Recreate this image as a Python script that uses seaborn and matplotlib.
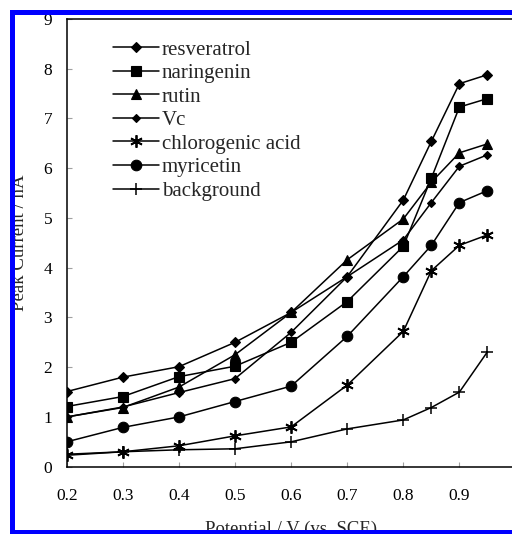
import matplotlib
matplotlib.use("Agg")
import matplotlib.pyplot as plt
from matplotlib.patches import Rectangle
import seaborn as sns
import pandas as pd

# ---- data ----
potential = [0.2, 0.3, 0.4, 0.5, 0.6, 0.7, 0.8, 0.85, 0.9, 0.95]
resveratrol = [1.51, 1.80, 2.01, 2.50, 3.10, 3.82, 5.36, 6.54, 7.70, 7.88]
naringenin = [1.21, 1.41, 1.81, 2.02, 2.50, 3.32, 4.43, 5.80, 7.23, 7.40]
rutin = [1.00, 1.19, 1.60, 2.25, 3.10, 4.16, 4.98, 5.72, 6.31, 6.49]
vc = [1.00, 1.20, 1.49, 1.77, 2.70, 3.82, 4.56, 5.31, 6.04, 6.27]
chlorogenic_acid = [0.23, 0.30, 0.42, 0.62, 0.80, 1.64, 2.72, 3.94, 4.45, 4.66]
myricetin = [0.50, 0.79, 1.00, 1.31, 1.62, 2.62, 3.82, 4.45, 5.31, 5.55]
background = [0.25, 0.30, 0.34, 0.36, 0.50, 0.76, 0.94, 1.19, 1.50, 2.31]

series_names = ["resveratrol", "naringenin", "rutin", "Vc",
                "chlorogenic acid", "myricetin", "background"]
series_values = [resveratrol, naringenin, rutin, vc,
                 chlorogenic_acid, myricetin, background]

x_ticks = [0.2, 0.3, 0.4, 0.5, 0.6, 0.7, 0.8, 0.9]
x_tick_labels = ["0.2", "0.3", "0.4", "0.5", "0.6", "0.7", "0.8", "0.9"]
y_ticks = [0, 1, 2, 3, 4, 5, 6, 7, 8, 9]

# ---- styles ----
marker_style = {
    "resveratrol": dict(marker="D", markersize=5.4),
    "naringenin": dict(marker="s", markersize=7.0),
    "rutin": dict(marker="^", markersize=7.5),
    "Vc": dict(marker="D", markersize=3.8),
    "chlorogenic acid": dict(marker=(6, 2, 0), markersize=9, markeredgewidth=1.3),
    "myricetin": dict(marker="o", markersize=7.6),
    "background": dict(marker="+", markersize=9, markeredgewidth=1.1),
}

sns.set_style("ticks")
plt.rcParams["font.family"] = ["Liberation Serif", "DejaVu Serif"]

W, H = 512, 537
fig = plt.figure(figsize=(W / 100, H / 100), dpi=100)
ax_left, ax_right, ax_top, ax_bottom = 66.7, 515.5, 19.0, 466.7
ax = fig.add_axes([ax_left / W, 1 - ax_bottom / H,
                   (ax_right - ax_left) / W, (ax_bottom - ax_top) / H])

frames = []
for name, vals in zip(series_names, series_values):
    frames.append(pd.DataFrame({"Potential": potential, "Current": vals,
                                "Compound": name}))
df = pd.concat(frames, ignore_index=True)

for name in series_names:
    sub = df[df["Compound"] == name]
    st = dict(markeredgewidth=0.8)
    st.update(marker_style[name])
    sns.lineplot(data=sub, x="Potential", y="Current", ax=ax, color="black",
                 linewidth=1.1, markeredgecolor="black", markerfacecolor="black",
                 label=name, errorbar=None, sort=False, **st)

ax.set_xlim(0.2, 1.0)
ax.set_ylim(0, 9)
ax.set_xticks(x_ticks)
ax.set_xticklabels(x_tick_labels)
ax.set_yticks(y_ticks)
ax.tick_params(axis="both", direction="in", length=3.5, width=0.8,
               color="#a0a0a0", labelsize=12.5, labelcolor="black")
ax.tick_params(axis="x", pad=15.5)
ax.tick_params(axis="y", pad=10.5)
for s in ax.spines.values():
    s.set_color("black")
    s.set_linewidth(1.1)

ax.set_xlabel("Potential / V (vs. SCE)", fontsize=13.5)
ax.set_ylabel("Peak Current / nA", fontsize=13.5)
axw = ax_right - ax_left
axh = ax_bottom - ax_top
ax.xaxis.set_label_coords(0.5, -(521 - ax_bottom) / axh)
ax.yaxis.set_label_coords(-(ax_left - 28) / axw, 0.5)

leg = ax.legend(loc="upper left",
                bbox_to_anchor=((113 - ax_left) / axw, (ax_bottom - 40) / axh),
                frameon=False, borderaxespad=0, borderpad=0,
                fontsize=15, handlelength=2.2, handletextpad=0.15,
                labelspacing=0.19)

# ---- blue frame around figure (right side cropped) ----
blue = (0, 0, 1)
fig.patches.append(Rectangle((0, 0), 1, (H - 533.5) / H, transform=fig.transFigure,
                             facecolor="white", edgecolor="none", zorder=20))
fig.patches.append(Rectangle((10 / W, (H - 533.5) / H), 1, 4 / H,
                             transform=fig.transFigure, facecolor=blue,
                             edgecolor="none", zorder=21))
fig.patches.append(Rectangle((10 / W, (H - 15) / H), 1, 5 / H,
                             transform=fig.transFigure, facecolor=blue,
                             edgecolor="none", zorder=21))
fig.patches.append(Rectangle((10 / W, (H - 533.5) / H), 5 / W, (533.5 - 10) / H,
                             transform=fig.transFigure, facecolor=blue,
                             edgecolor="none", zorder=21))

fig.savefig("out.png", dpi=100)
